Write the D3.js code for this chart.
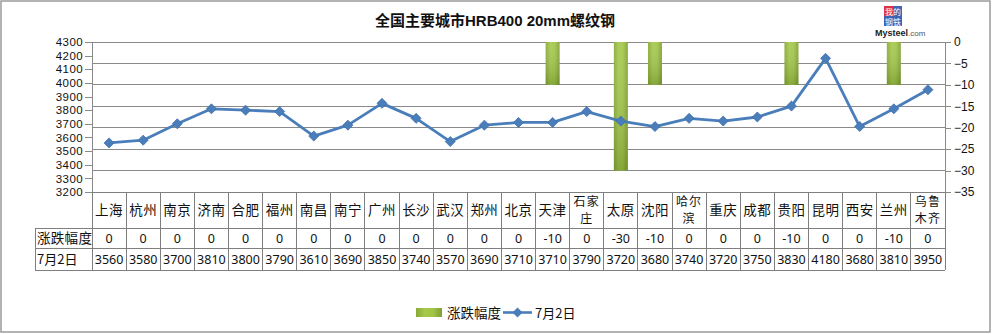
<!DOCTYPE html>
<html><head><meta charset="utf-8">
<script src="https://cdn.jsdelivr.net/npm/d3@7"></script>
<style>
html,body{margin:0;padding:0;background:#fff;}
svg{display:block;}
text{font-family:"Noto Sans","Noto Sans CJK SC",sans-serif;fill:#111;}
</style></head>
<body>
<svg id="chart" width="992" height="334"></svg>
<script>
const cities = ["上海","杭州","南京","济南","合肥","福州","南昌","南宁","广州","长沙","武汉","郑州","北京","天津","石家庄","太原","沈阳","哈尔滨","重庆","成都","贵阳","昆明","西安","兰州","乌鲁木齐"];
const changeValues = [0,0,0,0,0,0,0,0,0,0,0,0,0,-10,0,-30,-10,0,0,0,-10,0,0,-10,0];
const priceValues = [3560,3580,3700,3810,3800,3790,3610,3690,3850,3740,3570,3690,3710,3710,3790,3720,3680,3740,3720,3750,3830,4180,3680,3810,3950];
const leftTicks = [3200,3300,3400,3500,3600,3700,3800,3900,4000,4100,4200,4300];
const rightTicks = [0,-5,-10,-15,-20,-25,-30,-35];
const seriesNames = ["涨跌幅度","7月2日"];
const titleText = "全国主要城市HRB400 20mm螺纹钢";

const svg = d3.select("#chart");
const L = 92, R = 945, T = 42, B = 192;
const rowY = [192, 228, 248, 270];
const tableLeft = 35;
const gridColor = "#8a8a8a";
const cjk = "'Noto Sans CJK SC',sans-serif";
const ink = "#111";

// border
svg.append("rect").attr("x",1).attr("y",1).attr("width",989).attr("height",331)
  .attr("fill","#fff").attr("stroke","#9a9a9a").attr("stroke-width",1.5);

const defs = svg.append("defs");
const grad = defs.append("linearGradient").attr("id","barGrad").attr("x1",0).attr("y1",0).attr("x2",1).attr("y2",0);
grad.append("stop").attr("offset","0%").attr("stop-color","#86aa35");
grad.append("stop").attr("offset","35%").attr("stop-color","#a6c94c");
grad.append("stop").attr("offset","65%").attr("stop-color","#a2c548");
grad.append("stop").attr("offset","100%").attr("stop-color","#7f9f33");
const gradV = defs.append("linearGradient").attr("id","barShade").attr("x1",0).attr("y1",0).attr("x2",0).attr("y2",1);
gradV.append("stop").attr("offset","0%").attr("stop-color","#fff").attr("stop-opacity",0.08);
gradV.append("stop").attr("offset","100%").attr("stop-color","#3d5a10").attr("stop-opacity",0.3);

const x = d3.scaleBand().domain(cities).range([L,R]).paddingInner(0).paddingOuter(0);
const yL = d3.scaleLinear().domain([3200,4300]).range([B,T]);
const yR = d3.scaleLinear().domain([-35,0]).range([B,T]);

// gridlines (right axis ticks)
svg.append("g").selectAll("line").data(rightTicks).join("line")
  .attr("x1",L).attr("x2",R).attr("y1",d=>yR(d)).attr("y2",d=>yR(d))
  .attr("stroke",gridColor).attr("stroke-width",1).attr("shape-rendering","crispEdges");

// left axis
const gl = svg.append("g").attr("transform",`translate(${L},0)`)
  .call(d3.axisLeft(yL).tickValues(leftTicks).tickSize(7).tickPadding(2).tickFormat(d3.format("d")));
gl.selectAll("path,line").attr("stroke",gridColor).attr("shape-rendering","crispEdges");
gl.select(".domain").attr("d",`M0,${T}V${B}`);
gl.selectAll("text").attr("font-size","11.5px").attr("letter-spacing","0.4px")
  .style("fill",ink).style("font-family","'Liberation Sans',sans-serif");

// right axis
const gr = svg.append("g").attr("transform",`translate(${R},0)`)
  .call(d3.axisRight(yR).tickValues(rightTicks).tickSize(6).tickPadding(3));
gr.selectAll("path,line").attr("stroke",gridColor).attr("shape-rendering","crispEdges");
gr.select(".domain").attr("d",`M0,${T}V${B}`);
gr.selectAll("text").attr("font-size","12px").style("fill",ink).style("font-family","'Liberation Sans',sans-serif");

// bars
const bw = x.bandwidth()*0.41;
const barData = cities.map((c,i)=>({c, v:changeValues[i]})).filter(d=>d.v!==0);
const bars = svg.append("g");
bars.selectAll("rect.b").data(barData).join("rect").attr("class","b")
  .attr("x",d=>x(d.c)+x.bandwidth()/2-bw/2).attr("width",bw)
  .attr("y",yR(0)).attr("height",d=>yR(d.v)-yR(0)).attr("fill","url(#barGrad)");
bars.selectAll("rect.s").data(barData).join("rect").attr("class","s")
  .attr("x",d=>x(d.c)+x.bandwidth()/2-bw/2).attr("width",bw)
  .attr("y",yR(0)).attr("height",d=>yR(d.v)-yR(0)).attr("fill","url(#barShade)");

// line
const lineColor = "#4a7ebb";
const pts = cities.map((c,i)=>[x(c)+x.bandwidth()/2, yL(priceValues[i])]);
svg.append("path").datum(pts).attr("d",d3.line()).attr("fill","none")
  .attr("stroke",lineColor).attr("stroke-width",2.8).attr("stroke-linejoin","round");
const sym = d3.symbol().type(d3.symbolDiamond2).size(64);
svg.append("g").selectAll("path").data(pts).join("path")
  .attr("transform",d=>`translate(${d[0]},${d[1]})`).attr("d",sym)
  .attr("fill","#4a7ebb").attr("stroke","#3f6fa8").attr("stroke-width",0.8);

// data table
const tg = svg.append("g");
const tableColor = "#7f7f7f";
[rowY[1],rowY[2],rowY[3]].forEach(y=>{
  tg.append("line").attr("x1",tableLeft).attr("x2",R).attr("y1",y).attr("y2",y)
    .attr("stroke",tableColor).attr("shape-rendering","crispEdges");
});
tg.append("line").attr("x1",L).attr("x2",R).attr("y1",B).attr("y2",B)
  .attr("stroke",tableColor).attr("shape-rendering","crispEdges");
const vx = cities.map(c=>x(c)).concat([R]);
vx.forEach(xx=>{
  tg.append("line").attr("x1",xx).attr("x2",xx).attr("y1",rowY[0]).attr("y2",rowY[3])
    .attr("stroke",tableColor).attr("shape-rendering","crispEdges");
});
tg.append("line").attr("x1",tableLeft).attr("x2",tableLeft).attr("y1",rowY[1]).attr("y2",rowY[3])
  .attr("stroke",tableColor).attr("shape-rendering","crispEdges");

// category labels
cities.forEach(c=>{
  const cx = x(c)+x.bandwidth()/2;
  const lines = c.length<=2 ? [c] : [c.slice(0,2), c.slice(2)];
  const t = tg.append("text").attr("text-anchor","middle")
    .style("font-family",cjk).style("fill",ink);
  if (lines.length===1) {
    t.attr("font-size","13.5px").attr("letter-spacing","0.5px");
    t.append("tspan").attr("x",cx).attr("y",215).text(lines[0]);
  } else {
    t.attr("font-size","12px").attr("letter-spacing","1.2px");
    t.append("tspan").attr("x",cx).attr("y",205.5).text(lines[0]);
    t.append("tspan").attr("x",cx).attr("y",223).text(lines[1]);
  }
});
// row headers
tg.append("text").attr("x",37).attr("y",243).attr("font-size","13.5px")
  .style("font-family",cjk).style("fill",ink).attr("letter-spacing","0.3px").text(seriesNames[0]);
tg.append("text").attr("x",37).attr("y",264).attr("font-size","13px")
  .style("font-family",cjk).style("fill",ink).text(seriesNames[1]);
// values
cities.forEach((c,i)=>{
  const cx = x(c)+x.bandwidth()/2;
  tg.append("text").attr("x",cx).attr("y",243).attr("text-anchor","middle").attr("font-size","12.5px").style("fill",ink).text(changeValues[i]);
  tg.append("text").attr("x",cx).attr("y",264).attr("text-anchor","middle").attr("font-size","12.5px").style("fill",ink).text(priceValues[i]);
});

// title
svg.append("text").attr("x",495).attr("y",26).attr("text-anchor","middle")
  .attr("font-size","15px").attr("font-weight","bold").style("fill",ink)
  .style("font-family","'Liberation Sans','Noto Sans CJK SC',sans-serif").text(titleText);

// logo
const lg = svg.append("g");
lg.append("rect").attr("x",884).attr("y",6).attr("width",9).attr("height",10).attr("fill","#d9344a");
lg.append("rect").attr("x",893).attr("y",6).attr("width",9).attr("height",10).attr("fill","#3f63b5");
lg.append("rect").attr("x",884).attr("y",16).attr("width",18).attr("height",10).attr("fill","#3f63b5");
lg.append("text").attr("x",893).attr("y",14.5).attr("text-anchor","middle").attr("font-size","8px")
  .style("fill","#fff").style("font-family",cjk).text("我的");
lg.append("text").attr("x",893).attr("y",24.5).attr("text-anchor","middle").attr("font-size","8px")
  .style("fill","#fff").style("font-family",cjk).text("钢铁");
const mt = lg.append("text").attr("x",875).attr("y",36).style("font-family","'Liberation Sans',sans-serif");
mt.append("tspan").attr("font-size","9px").attr("font-weight","bold").style("fill","#222").text("Mysteel");
mt.append("tspan").attr("font-size","8px").style("fill","#555").text(".com");

// legend
const leg = svg.append("g");
leg.append("rect").attr("x",416).attr("y",308).attr("width",26).attr("height",9).attr("fill","url(#barGrad)");
leg.append("text").attr("x",447).attr("y",318).attr("font-size","13.5px")
  .style("font-family",cjk).style("fill",ink).text(seriesNames[0]);
leg.append("line").attr("x1",503).attr("x2",532).attr("y1",312.5).attr("y2",312.5).attr("stroke",lineColor).attr("stroke-width",2.6);
leg.append("path").attr("transform","translate(517.5,312.5)").attr("d",sym).attr("fill","#4a7ebb");
leg.append("text").attr("x",535).attr("y",318).attr("font-size","13px")
  .style("font-family",cjk).style("fill",ink).text(seriesNames[1]);
</script>
</body></html>
